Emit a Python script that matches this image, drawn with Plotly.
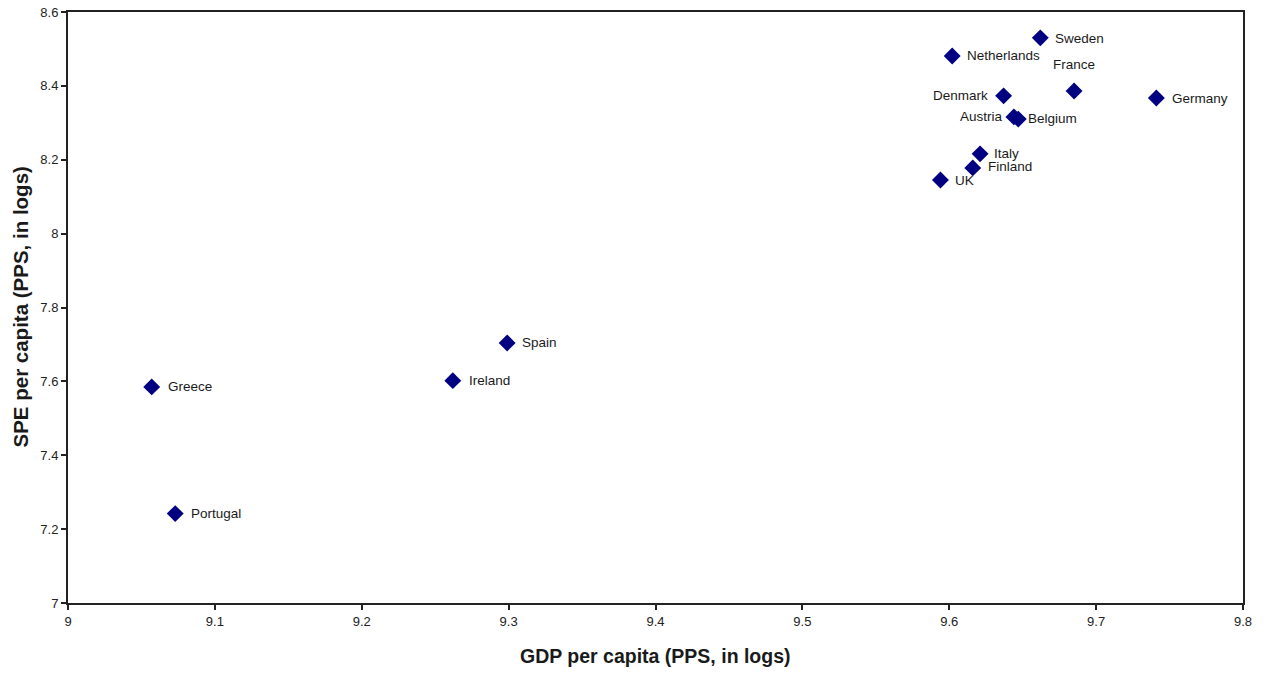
import plotly.graph_objects as go

countries = ["Sweden", "Netherlands", "France", "Denmark", "Germany", "Austria", "Belgium",
             "Italy", "Finland", "UK", "Spain", "Ireland", "Greece", "Portugal"]
gdp = [9.662, 9.602, 9.685, 9.637, 9.741, 9.644, 9.647, 9.621, 9.616, 9.594, 9.299, 9.262, 9.057, 9.073]
spe = [8.530, 8.481, 8.386, 8.373, 8.367, 8.316, 8.310, 8.216, 8.178, 8.145, 7.704, 7.602, 7.585, 7.242]

x_ticks = [9, 9.1, 9.2, 9.3, 9.4, 9.5, 9.6, 9.7, 9.8]
x_ticktext = ["9", "9.1", "9.2", "9.3", "9.4", "9.5", "9.6", "9.7", "9.8"]
y_ticks = [7, 7.2, 7.4, 7.6, 7.8, 8, 8.2, 8.4, 8.6]
y_ticktext = ["7", "7.2", "7.4", "7.6", "7.8", "8", "8.2", "8.4", "8.6"]

# label placement: (xanchor, xshift, yshift)
label_pos = {
    "Sweden": ("left", 13, -1),
    "Netherlands": ("left", 13, 0),
    "France": ("center", 0, 27),
    "Denmark": ("right", -14, 0),
    "Germany": ("left", 14, 0),
    "Austria": ("right", -9, 0),
    "Belgium": ("left", 8, 1),
    "Italy": ("left", 12, 0),
    "Finland": ("left", 13, 1),
    "UK": ("left", 13, 0),
    "Spain": ("left", 13, 0),
    "Ireland": ("left", 14, 0),
    "Greece": ("left", 14, 0),
    "Portugal": ("left", 14, 0),
}

FONT = "Liberation Sans, Arial"

fig = go.Figure()
fig.add_trace(go.Scatter(
    x=gdp, y=spe, mode="markers",
    marker=dict(symbol="diamond", size=13, color="#000080"),
    hovertext=countries, showlegend=False,
))

for c, xv, yv in zip(countries, gdp, spe):
    anchor, xs, ys = label_pos[c]
    fig.add_annotation(x=xv, y=yv, text=c, showarrow=False, xanchor=anchor,
                       yanchor="middle", xshift=xs, yshift=ys,
                       font=dict(family=FONT, size=13.5, color="#1a1a1a"))

axis_common = dict(showgrid=False, zeroline=False, showline=True, linecolor="#222222",
                   linewidth=2, mirror=True, ticks="outside", ticklen=5, tickwidth=1.5,
                   tickcolor="#222222", automargin=False,
                   tickfont=dict(family=FONT, size=13, color="#222222"))

fig.update_xaxes(range=[9, 9.8], tickvals=x_ticks, ticktext=x_ticktext, **axis_common)
fig.update_yaxes(range=[7, 8.6], tickvals=y_ticks, ticktext=y_ticktext, **axis_common)

fig.add_annotation(xref="paper", yref="paper", x=0.5, y=0, yshift=-53,
                   text="<b>GDP per capita (PPS, in logs)</b>", showarrow=False,
                   xanchor="center", yanchor="middle",
                   font=dict(family=FONT, size=19.5, color="#1a1a1a"))
fig.add_annotation(xref="paper", yref="paper", x=0, y=0.5, xshift=-48,
                   text="<b>SPE per capita (PPS, in logs)</b>", showarrow=False,
                   textangle=-90, xanchor="center", yanchor="middle",
                   font=dict(family=FONT, size=20.5, color="#1a1a1a"))

fig.update_layout(
    width=1265, height=674,
    margin=dict(l=68, r=22, t=12, b=71),
    plot_bgcolor="white", paper_bgcolor="white",
)

fig.write_html("out.html", config={"displayModeBar": False},
               post_script="document.body.style.margin='0';document.body.style.overflow='hidden';")
